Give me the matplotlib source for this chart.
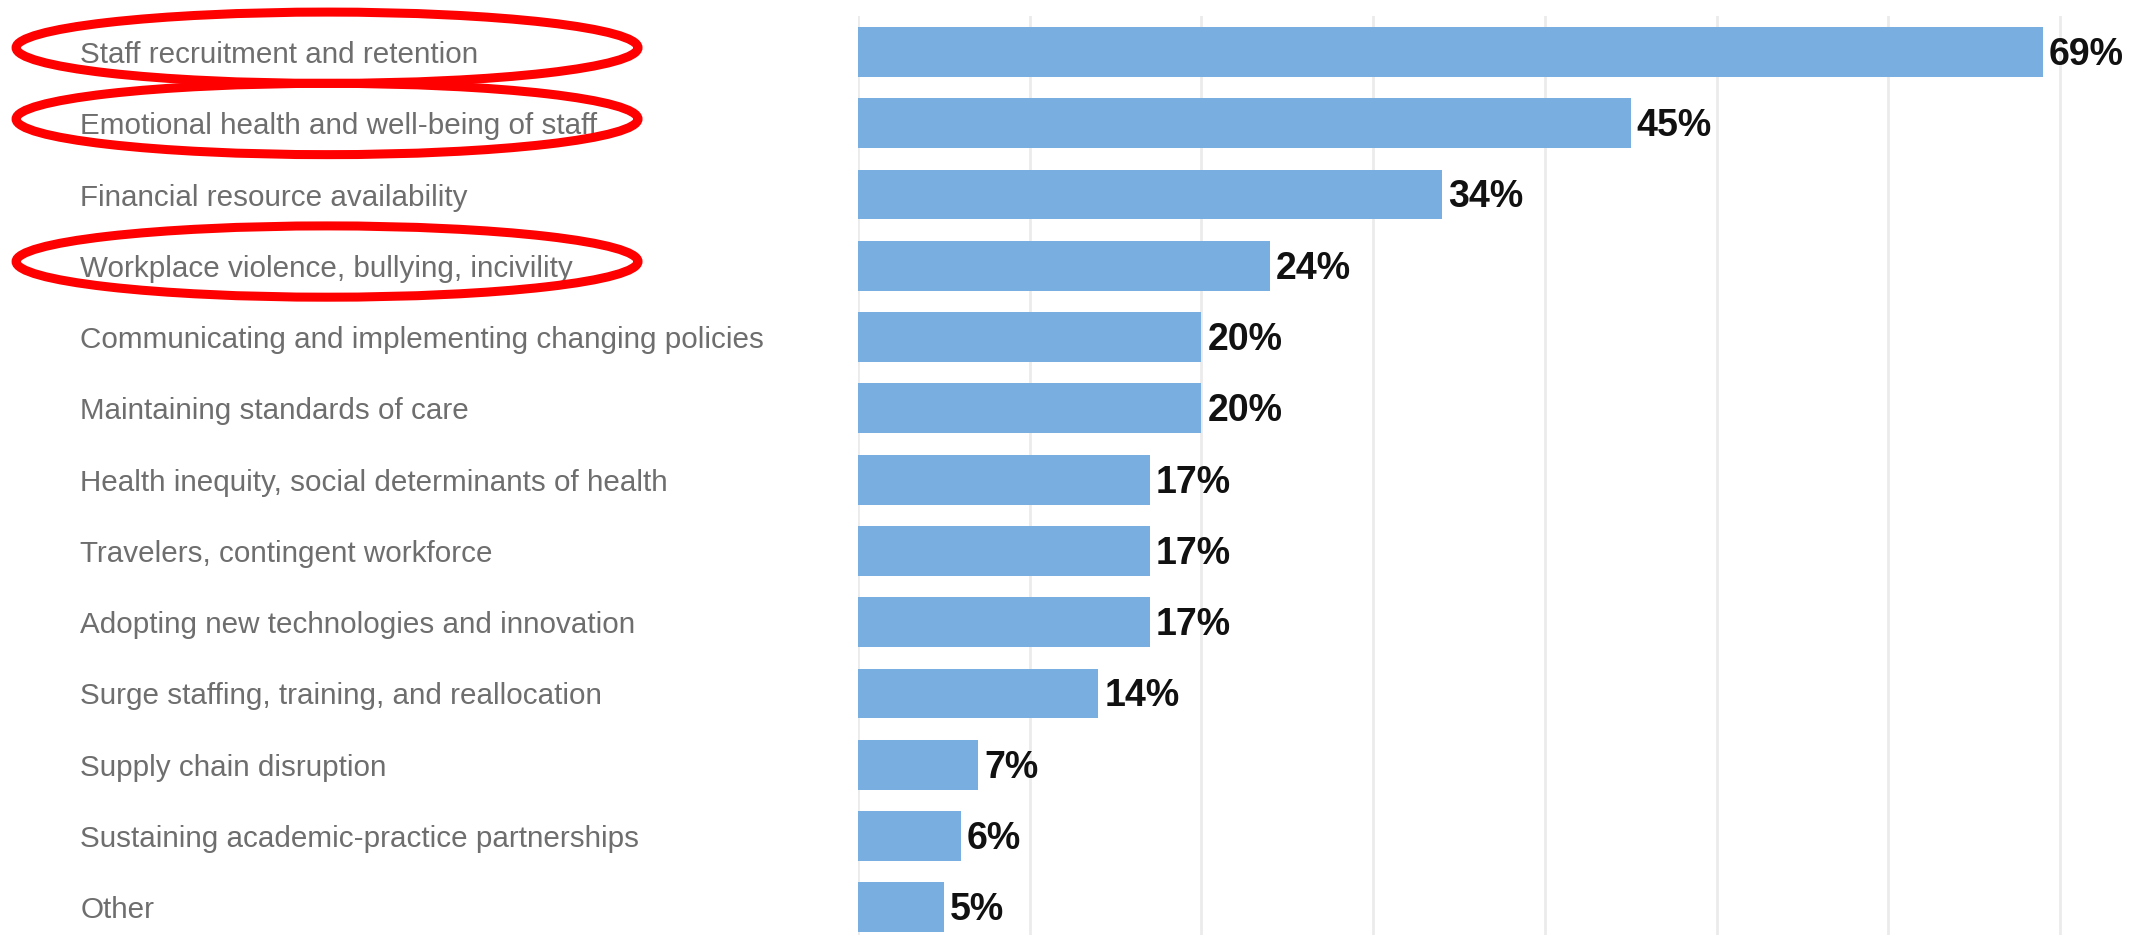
import matplotlib.pyplot as plt
from matplotlib.patches import Ellipse
from matplotlib.transforms import blended_transform_factory

# Survey responses: top challenges
categories = [
    'Staff recruitment and retention',
    'Emotional health and well-being of staff',
    'Financial resource availability',
    'Workplace violence, bullying, incivility',
    'Communicating and implementing changing policies',
    'Maintaining standards of care',
    'Health inequity, social determinants of health',
    'Travelers, contingent workforce',
    'Adopting new technologies and innovation',
    'Surge staffing, training, and reallocation',
    'Supply chain disruption',
    'Sustaining academic-practice partnerships',
    'Other',
]
percent = [69, 45, 34, 24, 20, 20, 17, 17, 17, 14, 7, 6, 5]
value_labels = ['69%', '45%', '34%', '24%', '20%', '20%', '17%', '17%', '17%', '14%', '7%', '6%', '5%']
circled = ['Staff recruitment and retention',
           'Emotional health and well-being of staff',
           'Workplace violence, bullying, incivility']

plt.rcParams['font.family'] = ['Liberation Sans', 'DejaVu Sans']

fig = plt.figure(figsize=(21.46, 9.35), dpi=100)
ax = fig.add_axes([858 / 2146, -0.0085, 1 - 858 / 2146, 0.991])

y = list(range(len(categories)))
ax.barh(y, percent, height=0.70, color='#78aee0', zorder=2)

ax.set_xlim(0, 75)
ax.set_ylim(len(categories) - 0.5, -0.5)
ax.set_xticks(range(0, 80, 10))
ax.tick_params(axis='x', length=0, labelbottom=False)
ax.grid(axis='x', color='#ebebeb', linewidth=2, zorder=0)
for s in ax.spines.values():
    s.set_visible(False)

ax.set_yticks(y, categories)
ax.tick_params(axis='y', length=0, pad=560, labelsize=21.3, labelcolor='#6e6e6e')
for lab in ax.get_yticklabels():
    lab.set_horizontalalignment('left')

for yi, v, txt in zip(y, percent, value_labels):
    ax.text(v + 0.35, yi + 0.04, txt, va='center', ha='left', fontsize=27,
            fontweight='bold', color='#111111')

# red circles around highlighted labels
trans = blended_transform_factory(fig.transFigure, ax.transData)
for name in circled:
    yi = categories.index(name)
    e = Ellipse((0.1524, yi - 0.06), 0.2898, 1.0, transform=trans,
                fill=False, edgecolor='#ff0000', linewidth=6.5, clip_on=False)
    fig.add_artist(e)

fig.savefig('out.png', dpi=100)
